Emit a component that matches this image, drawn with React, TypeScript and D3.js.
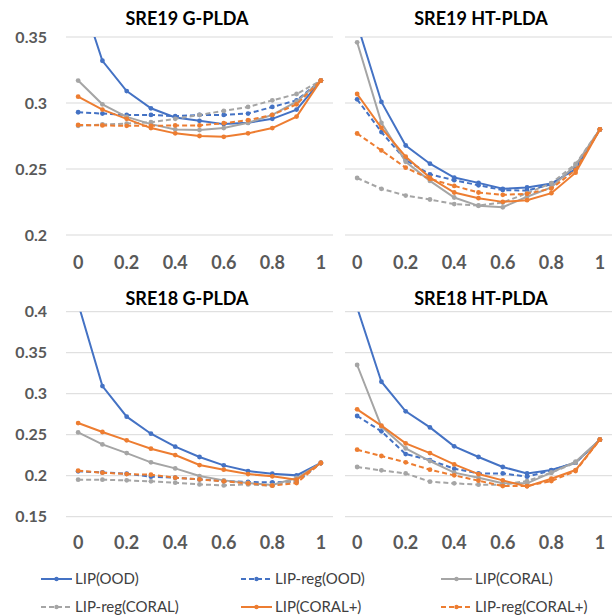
import React from "react";
import * as d3 from "d3";

// ---------- data ----------
const categories = ["0", "0.1", "0.2", "0.3", "0.4", "0.5", "0.6", "0.7", "0.8", "0.9", "1"];
const xTickLabels = ["0", "0.2", "0.4", "0.6", "0.8", "1"];
const seriesNames = ["LIP(OOD)", "LIP-reg(OOD)", "LIP(CORAL)", "LIP-reg(CORAL)", "LIP(CORAL+)", "LIP-reg(CORAL+)"];
const panelTitles = ["SRE19 G-PLDA", "SRE19 HT-PLDA", "SRE18 G-PLDA", "SRE18 HT-PLDA"];
const topYTicks = [0.2, 0.25, 0.3, 0.35];
const bottomYTicks = [0.15, 0.2, 0.25, 0.3, 0.35, 0.4];

// SRE19 G-PLDA
const sre19G_lipOOD = [0.388, 0.332, 0.309, 0.296, 0.289, 0.2865, 0.284, 0.285, 0.288, 0.295, 0.317];
const sre19G_regOOD = [0.293, 0.292, 0.291, 0.291, 0.29, 0.291, 0.291, 0.292, 0.297, 0.302, 0.317];
const sre19G_lipCORAL = [0.317, 0.299, 0.2895, 0.284, 0.28, 0.2795, 0.281, 0.285, 0.291, 0.301, 0.317];
const sre19G_regCORAL = [0.2827, 0.2837, 0.2844, 0.2854, 0.288, 0.291, 0.294, 0.297, 0.302, 0.3068, 0.317];
const sre19G_lipCORALp = [0.3048, 0.295, 0.288, 0.281, 0.277, 0.275, 0.2744, 0.277, 0.281, 0.2897, 0.317];
const sre19G_regCORALp = [0.2834, 0.283, 0.2827, 0.2827, 0.283, 0.283, 0.2847, 0.287, 0.291, 0.299, 0.317];

// SRE19 HT-PLDA
const sre19HT_lipOOD = [0.36, 0.3008, 0.2678, 0.254, 0.2435, 0.2395, 0.235, 0.236, 0.239, 0.25, 0.28];
const sre19HT_regOOD = [0.3028, 0.278, 0.2568, 0.246, 0.2415, 0.2377, 0.234, 0.2337, 0.2384, 0.2505, 0.28];
const sre19HT_lipCORAL = [0.346, 0.285, 0.2555, 0.241, 0.2284, 0.2221, 0.221, 0.229, 0.236, 0.253, 0.28];
const sre19HT_regCORAL = [0.2432, 0.235, 0.2299, 0.2269, 0.2234, 0.2224, 0.2246, 0.2317, 0.2392, 0.2538, 0.28];
const sre19HT_lipCORALp = [0.3068, 0.2812, 0.2593, 0.2435, 0.2322, 0.2279, 0.2251, 0.2264, 0.2317, 0.2472, 0.28];
const sre19HT_regCORALp = [0.2769, 0.2641, 0.251, 0.2425, 0.2372, 0.2322, 0.2304, 0.2312, 0.2352, 0.2492, 0.28];

// SRE18 G-PLDA
const sre18G_lipOOD = [0.41, 0.3093, 0.272, 0.2512, 0.2354, 0.2228, 0.2126, 0.2057, 0.2024, 0.2004, 0.2155];
const sre18G_regOOD = [0.2053, 0.204, 0.2024, 0.1988, 0.1976, 0.1955, 0.1935, 0.1923, 0.1919, 0.1927, 0.2155];
const sre18G_lipCORAL = [0.2528, 0.2382, 0.2276, 0.2163, 0.2089, 0.1996, 0.1943, 0.1911, 0.1886, 0.1972, 0.2155];
const sre18G_regCORAL = [0.1951, 0.1951, 0.1943, 0.1931, 0.1915, 0.1894, 0.1882, 0.1894, 0.1878, 0.1943, 0.2155];
const sre18G_lipCORALp = [0.2642, 0.2533, 0.2431, 0.2329, 0.2252, 0.213, 0.2073, 0.202, 0.1992, 0.1951, 0.2155];
const sre18G_regCORALp = [0.2061, 0.2037, 0.202, 0.2012, 0.1976, 0.1955, 0.1931, 0.1907, 0.1878, 0.1911, 0.2155];

// SRE18 HT-PLDA
const sre18HT_lipOOD = [0.405, 0.3146, 0.2785, 0.2589, 0.2358, 0.2228, 0.2106, 0.2028, 0.2069, 0.2159, 0.2439];
const sre18HT_regOOD = [0.2728, 0.2541, 0.2264, 0.2191, 0.2085, 0.2028, 0.2028, 0.1988, 0.2065, 0.2159, 0.2439];
const sre18HT_lipCORAL = [0.335, 0.2598, 0.2333, 0.2179, 0.2037, 0.1976, 0.1907, 0.1907, 0.2037, 0.2171, 0.2439];
const sre18HT_regCORAL = [0.2106, 0.2065, 0.2028, 0.1927, 0.1907, 0.189, 0.189, 0.1935, 0.2037, 0.2159, 0.2439];
const sre18HT_lipCORALp = [0.2809, 0.261, 0.2394, 0.2276, 0.2138, 0.202, 0.1943, 0.187, 0.1963, 0.2069, 0.2439];
const sre18HT_regCORALp = [0.2317, 0.224, 0.2163, 0.2073, 0.2004, 0.1939, 0.1874, 0.1874, 0.1935, 0.2057, 0.2439];

// ---------- styling ----------
const colors = ["#4472C4", "#4472C4", "#A5A5A5", "#A5A5A5", "#ED7D31", "#ED7D31"];
const dashed = [false, true, false, true, false, true];
const FONT = "Lato, 'Open Sans', sans-serif";

const panels = [
  { title: panelTitles[0], series: [sre19G_lipOOD, sre19G_regOOD, sre19G_lipCORAL, sre19G_regCORAL, sre19G_lipCORALp, sre19G_regCORALp], x0: 66, x1: 333, yTop: 37, yBot: 235, domain: [0.2, 0.35], ticks: topYTicks, showY: true, titleX: 187, titleY: 25, xLabY: 269 },
  { title: panelTitles[1], series: [sre19HT_lipOOD, sre19HT_regOOD, sre19HT_lipCORAL, sre19HT_regCORAL, sre19HT_lipCORALp, sre19HT_regCORALp], x0: 345, x1: 612, yTop: 37, yBot: 235, domain: [0.2, 0.35], ticks: topYTicks, showY: false, titleX: 481, titleY: 25, xLabY: 269 },
  { title: panelTitles[2], series: [sre18G_lipOOD, sre18G_regOOD, sre18G_lipCORAL, sre18G_regCORAL, sre18G_lipCORALp, sre18G_regCORALp], x0: 66, x1: 333, yTop: 311.7, yBot: 516.7, domain: [0.15, 0.4], ticks: bottomYTicks, showY: true, titleX: 187, titleY: 305, xLabY: 549 },
  { title: panelTitles[3], series: [sre18HT_lipOOD, sre18HT_regOOD, sre18HT_lipCORAL, sre18HT_regCORAL, sre18HT_lipCORALp, sre18HT_regCORALp], x0: 345, x1: 612, yTop: 311.7, yBot: 516.7, domain: [0.15, 0.4], ticks: bottomYTicks, showY: false, titleX: 481, titleY: 305, xLabY: 549 },
];

const legendPos = [
  { x: 41, y: 579 }, { x: 241, y: 579 }, { x: 441, y: 579 },
  { x: 41, y: 607 }, { x: 241, y: 607 }, { x: 441, y: 607 },
];

function Panel({ p, idx }: { p: any; idx: number }) {
  const x = d3.scalePoint<string>().domain(categories).range([p.x0, p.x1]).padding(0.5);
  const y = d3.scaleLinear().domain(p.domain).range([p.yBot, p.yTop]);
  const line = d3.line<number>().x((_, i) => x(categories[i]) as number).y((v) => y(v));
  const clipId = `clip${idx}`;
  return (
    <g>
      <defs>
        <clipPath id={clipId}>
          <rect x={p.x0} y={p.yTop} width={p.x1 - p.x0} height={p.yBot - p.yTop + 10} />
        </clipPath>
      </defs>
      {p.ticks.map((t: number) => (
        <line key={t} x1={p.x0} x2={p.x1} y1={y(t)} y2={y(t)} stroke="#D9D9D9" strokeWidth={1} />
      ))}
      {p.showY &&
        p.ticks.map((t: number) => (
          <text key={"l" + t} x={47} y={y(t)} dy="0.35em" textAnchor="end" fontFamily={FONT} fontWeight="bold" fontSize={16} fill="#595959">
            {String(t)}
          </text>
        ))}
      {xTickLabels.map((lab) => (
        <text key={"x" + lab} x={x(lab) as number} y={p.xLabY} textAnchor="middle" fontFamily={FONT} fontWeight="bold" fontSize={18} fill="#595959">
          {lab}
        </text>
      ))}
      <text x={p.titleX} y={p.titleY} textAnchor="middle" fontFamily={FONT} fontWeight="bold" fontSize={18} fill="#000">
        {p.title}
      </text>
      <g clipPath={`url(#${clipId})`}>
        {p.series.map((s: number[], si: number) => (
          <g key={si}>
            <path d={line(s) as string} fill="none" stroke={colors[si]} strokeWidth={2} strokeDasharray={dashed[si] ? "5,3" : undefined} />
            {s.map((v, i) => (
              <circle key={i} cx={x(categories[i]) as number} cy={y(v)} r={2.4} fill={colors[si]} />
            ))}
          </g>
        ))}
      </g>
    </g>
  );
}

export default function App() {
  return (
    <svg width={612} height={616} style={{ position: "absolute", left: 0, top: 0, background: "#fff" }}>
      <rect width={612} height={616} fill="#fff" />
      {panels.map((p, i) => (
        <Panel key={i} p={p} idx={i} />
      ))}
      {seriesNames.map((name, i) => {
        const { x, y } = legendPos[i];
        return (
          <g key={name}>
            <line x1={x} x2={x + 31} y1={y} y2={y} stroke={colors[i]} strokeWidth={2} strokeDasharray={dashed[i] ? "5,3" : undefined} />
            <circle cx={x + 15.5} cy={y} r={2.2} fill={colors[i]} />
            <text x={x + 34} y={y} dy="0.35em" fontFamily={FONT} fontSize={15} fill="#404040">
              {name}
            </text>
          </g>
        );
      })}
    </svg>
  );
}
